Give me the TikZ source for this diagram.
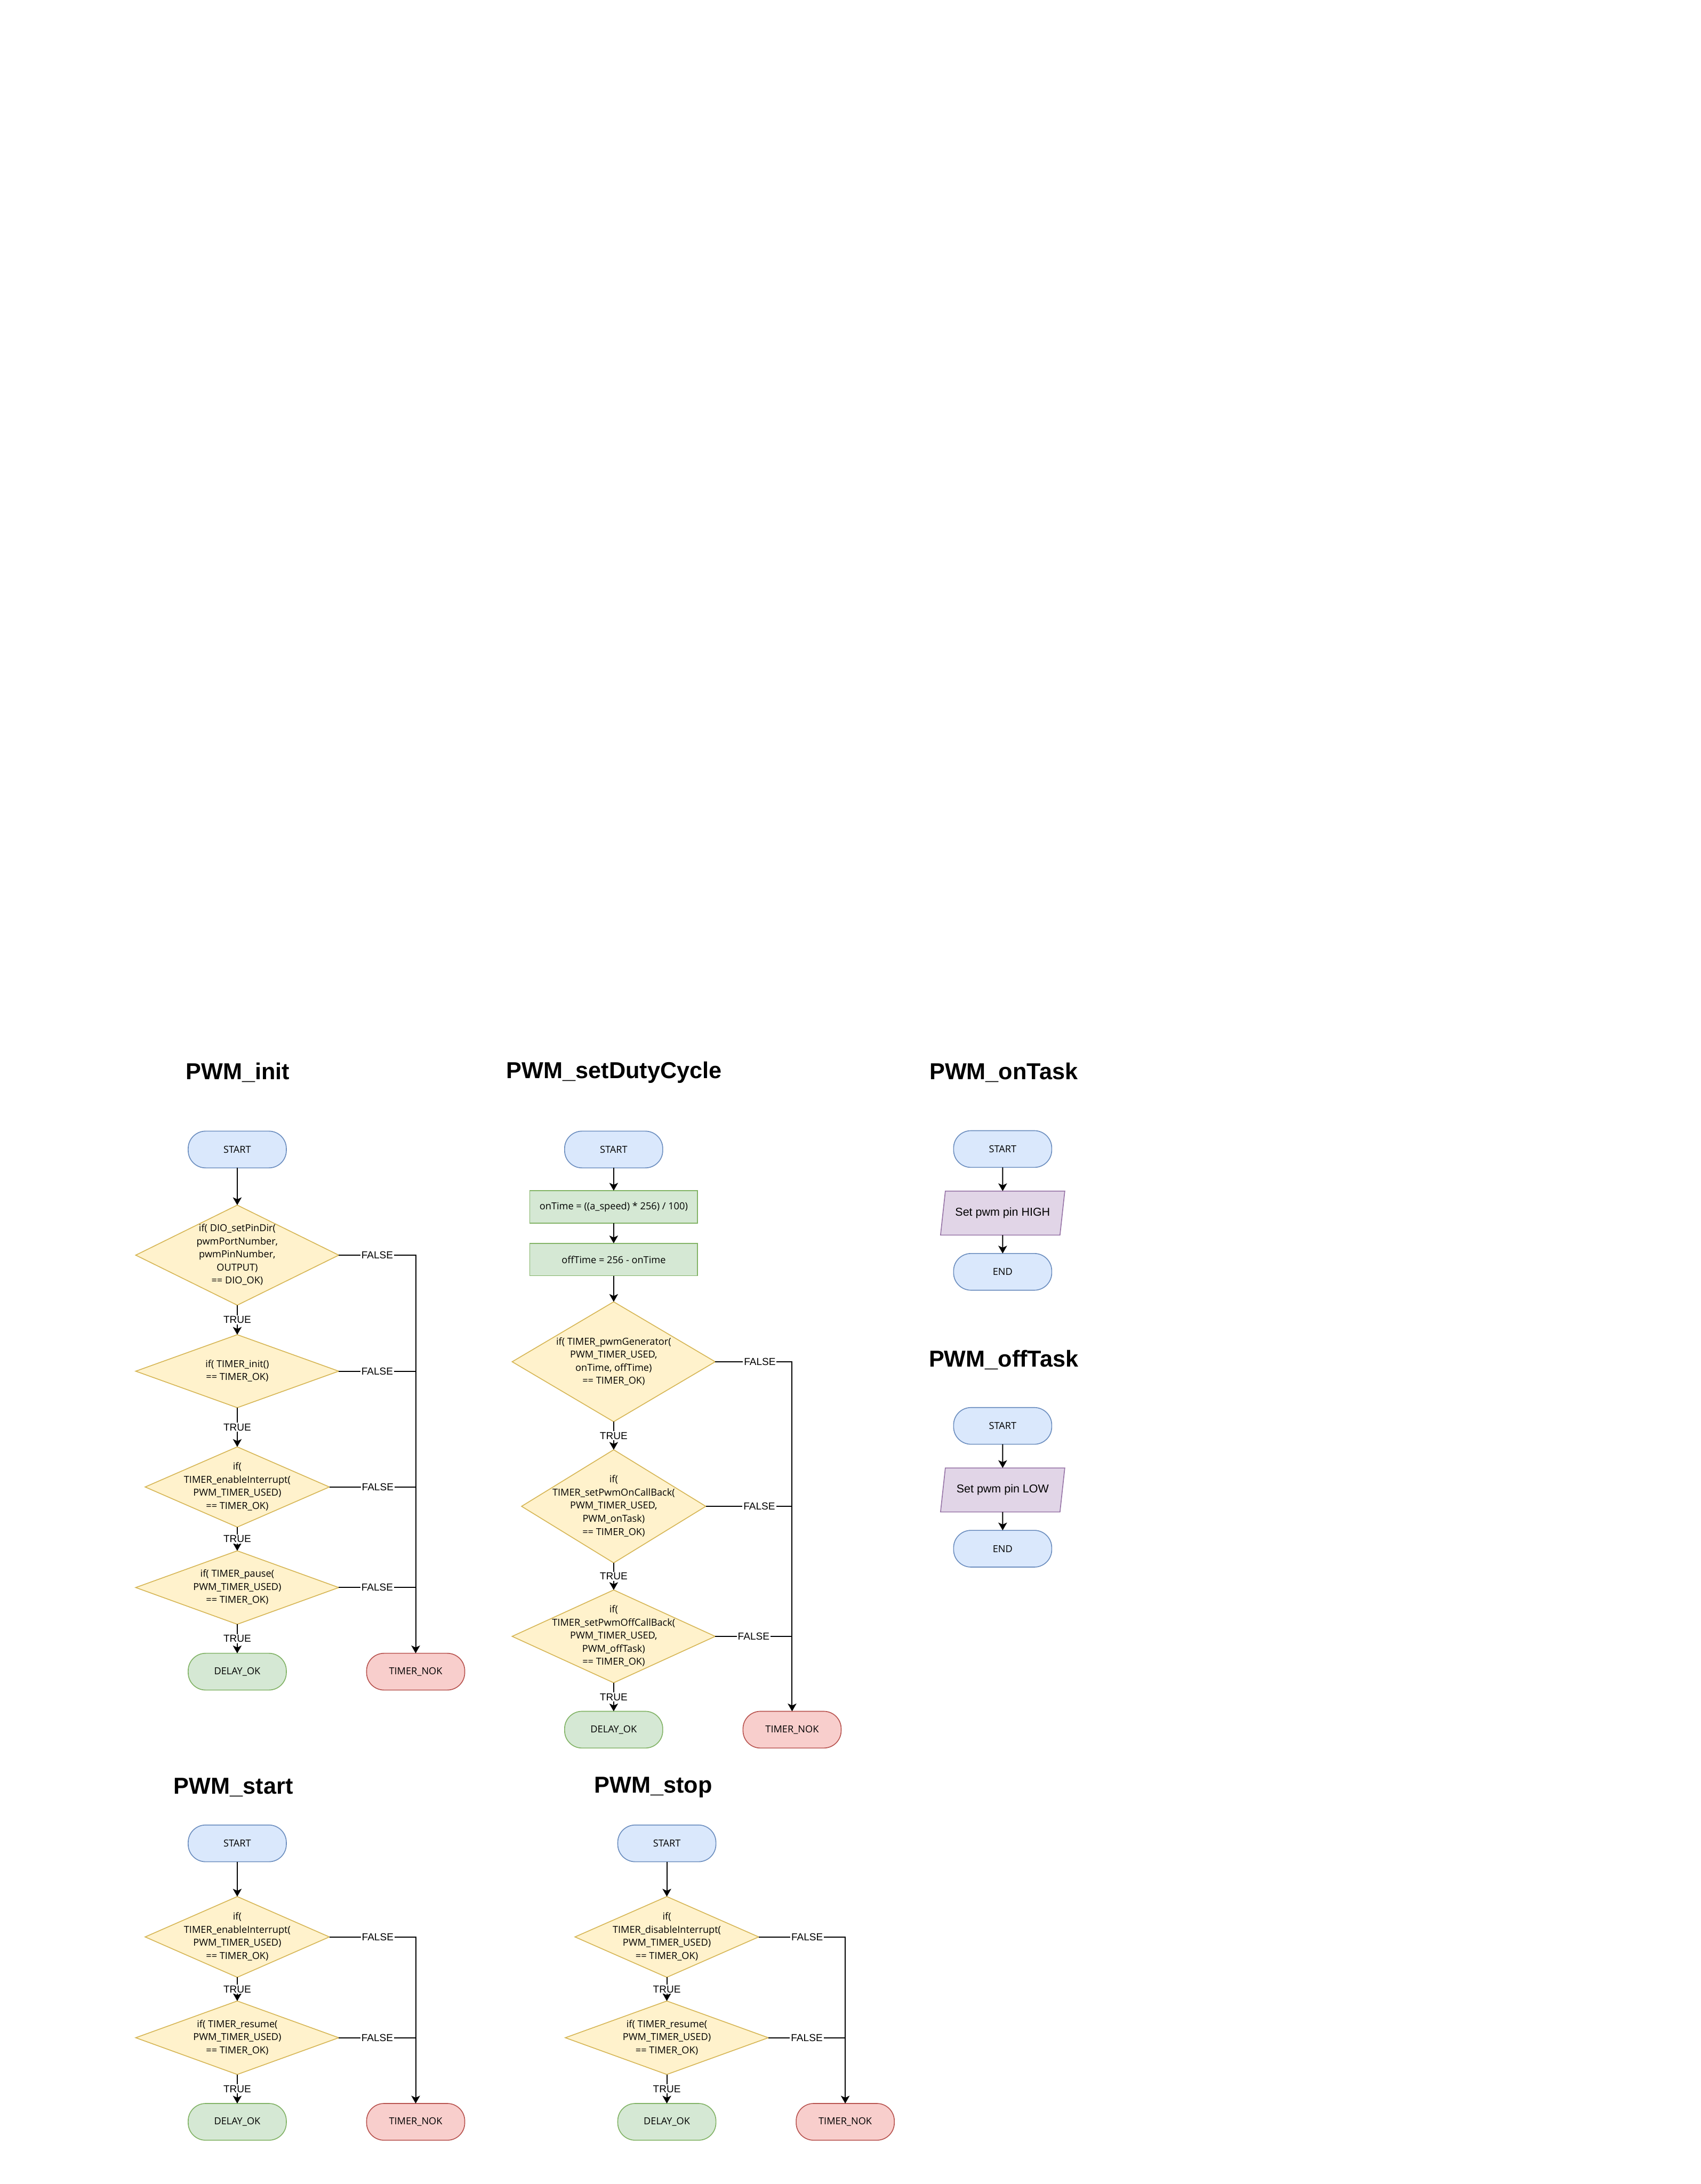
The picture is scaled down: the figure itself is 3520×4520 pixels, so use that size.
\documentclass[tikz,border=0pt]{standalone}
\usepackage{fontspec}
\setmainfont{Open Sans}
\newfontfamily\arialfont{Liberation Sans}
\usetikzlibrary{arrows.meta,positioning,shapes.geometric}

\definecolor{blueFill}{HTML}{DAE8FC}
\definecolor{blueLine}{HTML}{6C8EBF}
\definecolor{yellowFill}{HTML}{FFF2CC}
\definecolor{yellowLine}{HTML}{D6B656}
\definecolor{greenFill}{HTML}{D5E8D4}
\definecolor{greenLine}{HTML}{82B366}
\definecolor{redFill}{HTML}{F8CECC}
\definecolor{redLine}{HTML}{B85450}
\definecolor{purpleFill}{HTML}{E1D5E7}
\definecolor{purpleLine}{HTML}{9673A6}

% text of a decision, kept from widening the diamond
\newcommand{\dtext}[1]{\makebox[0pt]{\begin{tabular}{@{}c@{}}#1\end{tabular}}}

\tikzset{
  base/.style={line width=0.018cm, inner sep=0pt, outer sep=0pt, font=\fontsize{5.7}{7.7}\selectfont},
  term/.style={base, rectangle, rounded corners=0.36cm, minimum width=2.03cm, minimum height=0.76cm},
  startbox/.style={term, draw=blueLine, fill=blueFill},
  okbox/.style={term, draw=greenLine, fill=greenFill},
  nokbox/.style={term, draw=redLine, fill=redFill},
  decision/.style={base, diamond, draw=yellowLine, fill=yellowFill},
  process/.style={base, rectangle, draw=greenLine, fill=greenFill, minimum width=3.47cm, minimum height=0.67cm},
  io/.style={base, trapezium, trapezium left angle=65.7, trapezium right angle=114.3, trapezium stretches body,
    draw=purpleLine, fill=purpleFill, minimum width=2.57cm, minimum height=0.91cm, font=\arialfont\fontsize{6.74}{8}\selectfont},
  title/.style={inner sep=0pt, font=\arialfont\bfseries\fontsize{13.57}{16}\selectfont},
  lbl/.style={fill=white, inner sep=0.6pt, font=\arialfont\fontsize{5.98}{7}\selectfont},
  flow/.style={line width=0.022cm, -{Stealth[length=0.16cm, width=0.18cm, inset=0.04cm]}},
  wire/.style={line width=0.022cm},
}

\begin{document}
\begin{tikzpicture}[x=0.01cm, y=-0.01cm]
\useasboundingbox (0,0) rectangle (3520,4520);

% PWM_init
\node[title] (initTitle) at (492,2220) {PWM\_init};
\node[startbox] (initStart) at (491,2379) {START};
\node[decision, minimum width=4.2cm, minimum height=2.07cm, below=0.77cm of initStart] (initDio) {\dtext{if( DIO\_setPinDir(\\pwmPortNumber,\\pwmPinNumber,\\OUTPUT)\\== DIO\_OK)}};
\node[decision, minimum width=4.2cm, minimum height=1.51cm, below=0.61cm of initDio] (initTimer) {\dtext{if( TIMER\_init()\\== TIMER\_OK)}};
\node[decision, minimum width=3.81cm, minimum height=1.66cm, below=0.81cm of initTimer] (initIntr) {\dtext{if(\\TIMER\_enableInterrupt(\\PWM\_TIMER\_USED)\\== TIMER\_OK)}};
\node[decision, minimum width=4.2cm, minimum height=1.52cm, below=0.49cm of initIntr] (initPause) {\dtext{if( TIMER\_pause(\\PWM\_TIMER\_USED)\\== TIMER\_OK)}};
\node[okbox, below=0.6cm of initPause] (initOk) {DELAY\_OK};
\node[nokbox, right=1.66cm of initOk] (initNok) {TIMER\_NOK};

\draw[flow] (initStart) -- (initDio);
\draw[flow] (initDio) -- node[lbl]{TRUE} (initTimer);
\draw[flow] (initTimer) -- node[lbl]{TRUE} (initIntr);
\draw[flow] (initIntr) -- node[lbl]{TRUE} (initPause);
\draw[flow] (initPause) -- node[lbl]{TRUE} (initOk);
\draw[flow] (initDio.east) -- node[lbl]{FALSE} (initDio.east -| initNok) -- (initNok);
\draw[wire] (initTimer.east) -- node[lbl]{FALSE} (initTimer.east -| initNok);
\draw[wire] (initIntr.east) -- node[lbl, pos=0.56]{FALSE} (initIntr.east -| initNok);
\draw[wire] (initPause.east) -- node[lbl]{FALSE} (initPause.east -| initNok);

% PWM_setDutyCycle
\node[title] (dutyTitle) at (1271,2219) {PWM\_setDutyCycle};
\node[startbox] (dutyStart) at (1270,2379) {START};
\node[process, below=0.47cm of dutyStart] (dutyOn) {onTime = ((a\_speed) * 256) / 100)};
\node[process, below=0.42cm of dutyOn] (dutyOff) {offTime = 256 - onTime};
\node[decision, minimum width=4.2cm, minimum height=2.48cm, below=0.54cm of dutyOff] (dutyGen) {\dtext{if( TIMER\_pwmGenerator(\\PWM\_TIMER\_USED,\\onTime, offTime)\\== TIMER\_OK)}};
\node[decision, minimum width=3.81cm, minimum height=2.34cm, below=0.58cm of dutyGen] (dutyOnCb) {\dtext{if(\\TIMER\_setPwmOnCallBack(\\PWM\_TIMER\_USED,\\PWM\_onTask)\\== TIMER\_OK)}};
\node[decision, minimum width=4.2cm, minimum height=1.92cm, below=0.56cm of dutyOnCb] (dutyOffCb) {\dtext{if(\\TIMER\_setPwmOffCallBack(\\PWM\_TIMER\_USED,\\PWM\_offTask)\\== TIMER\_OK)}};
\node[okbox, below=0.59cm of dutyOffCb] (dutyOk) {DELAY\_OK};
\node[nokbox, right=1.66cm of dutyOk] (dutyNok) {TIMER\_NOK};

\draw[flow] (dutyStart) -- (dutyOn);
\draw[flow] (dutyOn) -- (dutyOff);
\draw[flow] (dutyOff) -- (dutyGen);
\draw[flow] (dutyGen) -- node[lbl]{TRUE} (dutyOnCb);
\draw[flow] (dutyOnCb) -- node[lbl]{TRUE} (dutyOffCb);
\draw[flow] (dutyOffCb) -- node[lbl]{TRUE} (dutyOk);
\draw[flow] (dutyGen.east) -- node[lbl, pos=0.58]{FALSE} (dutyGen.east -| dutyNok) -- (dutyNok);
\draw[wire] (dutyOnCb.east) -- node[lbl, pos=0.62]{FALSE} (dutyOnCb.east -| dutyNok);
\draw[wire] (dutyOffCb.east) -- node[lbl]{FALSE} (dutyOffCb.east -| dutyNok);

% PWM_onTask
\node[title] (onTitle) at (2077,2220) {PWM\_onTask};
\node[startbox] (onStart) at (2075,2378) {START};
\node[io, below=0.49cm of onStart] (onSet) {Set pwm pin HIGH};
\node[startbox, below=0.38cm of onSet] (onEnd) {END};

\draw[flow] (onStart) -- (onSet);
\draw[flow] (onSet) -- (onEnd);

% PWM_offTask
\node[title] (offTitle) at (2077,2814) {PWM\_offTask};
\node[startbox] (offStart) at (2075,2951) {START};
\node[io, below=0.49cm of offStart] (offSet) {Set pwm pin LOW};
\node[startbox, below=0.38cm of offSet] (offEnd) {END};

\draw[flow] (offStart) -- (offSet);
\draw[flow] (offSet) -- (offEnd);

% PWM_start
\node[title] (startTitle) at (483,3699) {PWM\_start};
\node[startbox] (startStart) at (491,3815) {START};
\node[decision, minimum width=3.81cm, minimum height=1.67cm, below=0.72cm of startStart] (startIntr) {\dtext{if(\\TIMER\_enableInterrupt(\\PWM\_TIMER\_USED)\\== TIMER\_OK)}};
\node[decision, minimum width=4.2cm, minimum height=1.52cm, below=0.49cm of startIntr] (startResume) {\dtext{if( TIMER\_resume(\\PWM\_TIMER\_USED)\\== TIMER\_OK)}};
\node[okbox, below=0.6cm of startResume] (startOk) {DELAY\_OK};
\node[nokbox, right=1.66cm of startOk] (startNok) {TIMER\_NOK};

\draw[flow] (startStart) -- (startIntr);
\draw[flow] (startIntr) -- node[lbl]{TRUE} (startResume);
\draw[flow] (startResume) -- node[lbl]{TRUE} (startOk);
\draw[flow] (startIntr.east) -- node[lbl, pos=0.56]{FALSE} (startIntr.east -| startNok) -- (startNok);
\draw[wire] (startResume.east) -- node[lbl]{FALSE} (startResume.east -| startNok);

% PWM_stop
\node[title] (stopTitle) at (1352,3699) {PWM\_stop};
\node[startbox] (stopStart) at (1380,3815) {START};
\node[decision, minimum width=3.8cm, minimum height=1.67cm, below=0.72cm of stopStart] (stopIntr) {\dtext{if(\\TIMER\_disableInterrupt(\\PWM\_TIMER\_USED)\\== TIMER\_OK)}};
\node[decision, minimum width=4.2cm, minimum height=1.52cm, below=0.49cm of stopIntr] (stopResume) {\dtext{if( TIMER\_resume(\\PWM\_TIMER\_USED)\\== TIMER\_OK)}};
\node[okbox, below=0.6cm of stopResume] (stopOk) {DELAY\_OK};
\node[nokbox, right=1.66cm of stopOk] (stopNok) {TIMER\_NOK};

\draw[flow] (stopStart) -- (stopIntr);
\draw[flow] (stopIntr) -- node[lbl]{TRUE} (stopResume);
\draw[flow] (stopResume) -- node[lbl]{TRUE} (stopOk);
\draw[flow] (stopIntr.east) -- node[lbl, pos=0.56]{FALSE} (stopIntr.east -| stopNok) -- (stopNok);
\draw[wire] (stopResume.east) -- node[lbl]{FALSE} (stopResume.east -| stopNok);
\end{tikzpicture}
\end{document}
